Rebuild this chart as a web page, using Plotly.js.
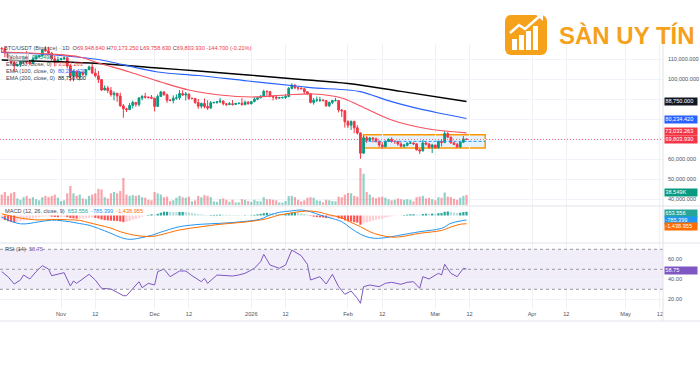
<!DOCTYPE html>
<html><head><meta charset="utf-8">
<script src="https://cdn.plot.ly/plotly-3.0.1.min.js"></script>
<style>html,body{margin:0;padding:0;background:#fff}#chart{width:700px;height:365px}</style>
</head><body><div id="chart"></div>
<script>
const days = [
'2025-10-13','2025-10-14','2025-10-15','2025-10-16','2025-10-17','2025-10-18','2025-10-19','2025-10-20','2025-10-21','2025-10-22',
'2025-10-23','2025-10-24','2025-10-25','2025-10-26','2025-10-27','2025-10-28','2025-10-29','2025-10-30','2025-10-31','2025-11-01',
'2025-11-02','2025-11-03','2025-11-04','2025-11-05','2025-11-06','2025-11-07','2025-11-08','2025-11-09','2025-11-10','2025-11-11',
'2025-11-12','2025-11-13','2025-11-14','2025-11-15','2025-11-16','2025-11-17','2025-11-18','2025-11-19','2025-11-20','2025-11-21',
'2025-11-22','2025-11-23','2025-11-24','2025-11-25','2025-11-26','2025-11-27','2025-11-28','2025-11-29','2025-11-30','2025-12-01',
'2025-12-02','2025-12-03','2025-12-04','2025-12-05','2025-12-06','2025-12-07','2025-12-08','2025-12-09','2025-12-10','2025-12-11',
'2025-12-12','2025-12-13','2025-12-14','2025-12-15','2025-12-16','2025-12-17','2025-12-18','2025-12-19','2025-12-20','2025-12-21',
'2025-12-22','2025-12-23','2025-12-24','2025-12-25','2025-12-26','2025-12-27','2025-12-28','2025-12-29','2025-12-30','2025-12-31',
'2026-01-01','2026-01-02','2026-01-03','2026-01-04','2026-01-05','2026-01-06','2026-01-07','2026-01-08','2026-01-09','2026-01-10',
'2026-01-11','2026-01-12','2026-01-13','2026-01-14','2026-01-15','2026-01-16','2026-01-17','2026-01-18','2026-01-19','2026-01-20',
'2026-01-21','2026-01-22','2026-01-23','2026-01-24','2026-01-25','2026-01-26','2026-01-27','2026-01-28','2026-01-29','2026-01-30',
'2026-01-31','2026-02-01','2026-02-02','2026-02-03','2026-02-04','2026-02-05','2026-02-06','2026-02-07','2026-02-08','2026-02-09',
'2026-02-10','2026-02-11','2026-02-12','2026-02-13','2026-02-14','2026-02-15','2026-02-16','2026-02-17','2026-02-18','2026-02-19',
'2026-02-20','2026-02-21','2026-02-22','2026-02-23','2026-02-24','2026-02-25','2026-02-26','2026-02-27','2026-02-28','2026-03-01',
'2026-03-02','2026-03-03','2026-03-04','2026-03-05','2026-03-06','2026-03-07','2026-03-08','2026-03-09','2026-03-10','2026-03-11'];

const openP = [
115300,115100,113100,110800,108200,106500,107200,108700,110600,108500,
107600,110100,111000,111600,114600,114100,112900,110100,108300,109600,
110100,110600,106500,101500,103900,101300,103400,102300,104700,106000,
103000,101600,99700,94500,95500,94200,92200,92900,91500,86600,
85100,84700,86800,88300,87300,90500,91300,90900,90800,90400,
86300,91300,93500,92100,89400,89300,90400,90600,92700,92000,
92500,90300,90300,88200,86400,87800,86200,85500,88100,88300,
88600,89000,87600,87300,87600,87300,87800,87900,87200,88400,
87600,88700,89900,90600,91500,93800,93700,91300,91000,90500,
90600,90800,91200,95300,97000,95600,95500,95100,93600,92600,
88300,89400,89500,89500,89200,86600,88300,89200,89200,84500,
84100,78600,76900,78700,75600,73000,62900,70600,69300,70500,
70100,68800,67000,66200,68800,69800,68800,68800,67500,66400,
66900,67900,68000,67600,64600,64000,68000,67500,65900,67000,
65700,68800,68300,72700,70900,68000,67300,66000,68400,69948.64];

const highP = [
116000,115800,113500,111700,109200,107500,109400,111700,114000,109000,
111300,112000,111900,115000,116400,116100,113600,111600,111200,110600,
111300,110800,107300,104500,104200,104100,103600,105000,106700,107500,
105300,104000,99900,96800,96600,96000,93800,92900,93200,87500,
85600,88000,89200,88500,91000,91900,93100,91200,92000,90400,
92300,94100,94000,92700,90000,91800,92300,94500,94400,93500,
92700,90600,90500,90000,88200,90300,89400,89000,88600,89000,
90600,89300,88000,88500,89500,88000,88100,90400,89200,89000,
88900,90900,90800,91800,94700,94400,93800,91500,91700,91100,
91100,92400,96000,97800,97200,95900,95600,95500,93800,92900,
90500,91200,91100,89900,89300,88700,89500,90600,89400,85000,
84300,79400,79300,79200,76900,73300,71700,71500,71000,71000,
70700,69300,68400,69300,70300,70800,69300,69000,68400,67500,
68300,68600,68300,67700,65100,69500,68800,68100,67600,67100,
69200,69800,74000,73500,71200,68600,68100,68700,71500,70173.25];

const lowP = [
113000,110800,110200,107500,103500,106300,106100,107500,107400,106900,
107500,109700,110600,111300,113800,112200,109200,106300,108000,109400,
109500,105300,98900,98900,100300,99300,101500,101300,104300,102500,
100800,98000,94000,94300,93000,91200,89300,88600,86100,80600,
83500,84600,85300,86100,86300,89300,90200,90200,90300,83800,
86200,91000,91700,88100,88900,87800,89600,89600,91500,89300,
89500,89800,87600,85100,85300,85300,84500,85100,87800,87600,
87900,86800,86400,86900,86700,87100,87300,86700,86900,87300,
87300,88400,89400,90400,91300,91600,90800,89300,89600,90200,
90300,90000,90900,94800,95000,94300,94900,92600,91900,87800,
87200,88500,88500,88900,86100,86000,87400,88800,83300,81000,
75700,75500,74500,72900,72200,60100,62600,68000,68800,68300,
68200,65900,65100,65800,68600,68200,67600,66700,65900,65700,
66300,67500,67100,64200,62500,63900,66800,65100,63000,65000,
65200,66300,67900,70500,67800,66900,65600,65700,68100,69758.63];

const closeP = [
115100,113100,110800,108200,106500,107200,108700,110600,108500,107600,
110100,111000,111600,114600,114100,112900,110100,108300,109600,110100,
110600,106500,101500,103900,101300,103400,102300,104700,106000,103000,
101600,99700,94500,95500,94200,92200,92900,91500,86600,85100,
84700,86800,88300,87300,90500,91300,90900,90800,90400,86300,
91300,93500,92100,89400,89300,90400,90600,92700,92000,92500,
90300,90300,88200,86400,87800,86200,85500,88100,88300,88600,
89000,87600,87300,87600,87300,87800,87900,87200,88400,87600,
88700,89900,90600,91500,93800,93700,91300,91000,90500,90600,
90800,91200,95300,97000,95600,95500,95100,93600,92600,88300,
89400,89500,89500,89200,86600,88300,89200,89200,84500,84100,
78600,76900,78700,75600,73000,62900,70600,69300,70500,70100,
68800,67000,66200,68800,69800,68800,68800,67500,66400,66900,
67900,68000,67600,64600,64000,68000,67500,65900,67000,65700,
68800,68300,72700,70900,68000,67300,66000,68400,69950,69803.93];
const lastChange = -144.700;
const lastChangePct = -0.21;

const volumeK = [
40,50,35,45,50,25,20,30,35,25,
30,22,18,30,35,30,35,40,28,15,
18,45,73,45,35,40,25,22,35,40,
45,62,60,30,25,45,50,45,54,104,
40,35,38,35,38,30,28,20,18,50,
45,40,30,32,15,18,28,35,30,28,
32,14,18,35,30,38,35,30,14,12,
22,25,20,12,20,10,10,22,20,15,
12,20,15,14,30,22,22,20,18,10,
9,15,34,35,30,20,14,18,28,30,
28,18,16,10,20,18,15,14,32,30,
40,46,45,35,32,142,120,50,40,30,
26,30,32,28,22,18,20,25,22,20,
22,20,14,30,32,35,25,27,22,18,
30,28,48,32,30,24,20,28,35,38.549];

const ema50Dates = ['2025-10-13','2025-10-28','2025-11-07','2025-11-13','2025-11-23','2025-12-03','2025-12-12','2025-12-22','2026-01-01','2026-01-12','2026-01-21','2026-01-30','2026-02-05','2026-02-15','2026-02-26','2026-03-11'];
const ema50 = [113500,112500,111000,108000,103500,98500,94500,92000,91000,92000,92500,90500,86500,79500,75250,73033.263];
const ema100Dates = ['2025-10-13','2025-10-28','2025-11-13','2025-11-17','2025-12-02','2025-12-15','2025-12-31','2026-01-17','2026-01-20','2026-02-01','2026-02-05','2026-02-15','2026-02-21','2026-03-02','2026-03-11'];
const ema100 = [113250,112250,109750,108500,103500,101750,99000,96250,95650,94500,93650,88650,86150,83000,80234.42];
const ema200Dates = ['2025-10-13','2025-11-13','2025-12-02','2025-12-15','2025-12-31','2026-01-17','2026-02-01','2026-02-18','2026-03-11'];
const ema200 = [109500,107750,105500,104000,102000,99750,97750,93800,88750];

const macdDates = ['2025-10-13','2025-10-19','2025-10-25','2025-10-29','2025-11-01','2025-11-04','2025-11-07','2025-11-10','2025-11-13','2025-11-17','2025-11-20','2025-11-23','2025-11-26','2025-11-30','2025-12-03','2025-12-09','2025-12-16','2025-12-22','2025-12-29','2026-01-04','2026-01-07','2026-01-10','2026-01-14','2026-01-17','2026-01-20','2026-01-23','2026-01-26','2026-01-30','2026-02-02','2026-02-05','2026-02-08','2026-02-11','2026-02-15','2026-02-18','2026-02-24','2026-03-03','2026-03-06','2026-03-09','2026-03-11'];
const macdLine = [-300,-1450,-1100,-800,-900,-1100,-1400,-1700,-2250,-3100,-3800,-4150,-3950,-3450,-2900,-1950,-1520,-1360,-1080,-610,90,560,800,960,660,90,-380,-1080,-2230,-3270,-3860,-3970,-3680,-3390,-2820,-2230,-1360,-960,-785.399];
const signalLine = [300,-450,-780,-700,-700,-750,-850,-1250,-1650,-2200,-2820,-3250,-3550,-3650,-3350,-2520,-1950,-1530,-1190,-780,-400,90,450,700,780,560,100,-380,-1200,-1950,-2820,-3390,-3750,-3680,-3100,-2600,-2000,-1530,-1438.955];
const macdHist = [
-600,-800,-1000,-1150,-1250,-1150,-1000,-850,-700,-600,
-500,-400,-300,-200,-150,-150,-200,-250,-300,-280,
-250,-300,-450,-500,-550,-550,-520,-480,-400,-380,
-420,-520,-700,-800,-850,-900,-920,-950,-1050,-1150,
-1100,-950,-750,-600,-400,-200,-50,100,200,150,
300,500,650,650,620,600,580,620,620,600,
520,450,350,250,200,120,50,80,100,120,
150,140,120,110,90,80,70,50,60,40,
60,120,200,280,400,480,450,400,330,280,
250,250,380,500,500,450,380,280,150,-80,
-200,-280,-330,-360,-450,-450,-400,-350,-500,-600,
-850,-1000,-1050,-1150,-1250,-1600,-1350,-1200,-1050,-900,
-750,-650,-550,-400,-250,-150,-60,-20,20,80,
150,200,220,150,120,250,300,280,320,300,
400,420,650,700,600,500,420,480,600,653.556];

const rsiDates = ['2025-10-13','2025-10-15','2025-10-17','2025-10-19','2025-10-20','2025-10-22','2025-10-24','2025-10-26','2025-10-28','2025-10-29','2025-11-02','2025-11-04','2025-11-05','2025-11-06','2025-11-10','2025-11-12','2025-11-14','2025-11-17','2025-11-19','2025-11-21','2025-11-22','2025-11-24','2025-11-26','2025-11-27','2025-11-29','2025-12-01','2025-12-02','2025-12-04','2025-12-06','2025-12-09','2025-12-11','2025-12-13','2025-12-16','2025-12-17','2025-12-18','2025-12-21','2025-12-24','2025-12-26','2025-12-28','2025-12-30','2026-01-02','2026-01-04','2026-01-05','2026-01-07','2026-01-10','2026-01-12','2026-01-14','2026-01-15','2026-01-17','2026-01-19','2026-01-20','2026-01-23','2026-01-25','2026-01-27','2026-01-29','2026-01-31','2026-02-02','2026-02-04','2026-02-05','2026-02-06','2026-02-08','2026-02-11','2026-02-13','2026-02-15','2026-02-18','2026-02-20','2026-02-22','2026-02-24','2026-02-25','2026-02-27','2026-03-02','2026-03-03','2026-03-04','2026-03-06','2026-03-08','2026-03-10','2026-03-11'];
const rsiVals = [47.6,42.6,35.3,39.3,44.3,40.3,47.6,53.6,50.3,43.6,46.6,33.3,38.3,36,45,39.3,31,30.3,27,23.6,23.6,31,37.6,31.6,36,34.3,47.6,50.3,42.6,48.3,48.3,43.6,37.6,41,36,44.3,43.6,43.3,44.3,46,51,57.6,65,54.3,51,54.3,69.3,67.6,63.6,55,39.3,42.6,35.3,45,32.6,25,28.3,21,16,32.6,34.3,32.6,36,37,35,37,37.6,31,42.6,40.3,46,44.3,55,46,42.6,51,50.3];
const rsiLast = 58.75;

const timeTickDates = ['2025-11-01','2025-11-12','2025-12-01','2025-12-12','2026-01-01','2026-01-12','2026-02-01','2026-02-12','2026-03-01','2026-03-12','2026-04-01','2026-04-12','2026-05-01','2026-05-12'];
const timeTickText = ['Nov','12','Dec','12','2026','12','Feb','12','Mar','12','Apr','12','May','12'];
const priceTicks = [40000,50000,60000,70000,80000,90000,100000,110000];
const priceTicksHidden = [70000,80000,90000];   // covered by the value tags in the reference
const rsiTicks = [20,40,60];
const rsiLevels = [30,50,70];
const zoneDates = ['2026-02-06','2026-03-17'];
const zonePrices = [65500,72150,68825];

const fmt = (v,d) => v.toLocaleString('en-US',{minimumFractionDigits:d,maximumFractionDigits:d});
const UP='#089981', DN='#F23645';
const n = closeP.length;
const volColors = closeP.map((c,i)=> c>=openP[i] ? 'rgba(8,153,129,0.45)' : 'rgba(242,54,69,0.45)');
const histColors = macdHist.map((h,i)=>{const p = i>0?macdHist[i-1]:h; return h>=0 ? (h>=p?'#26A69A':'#B2DFDB') : (h<p?'#FF5252':'#FFCDD2');});

const traces = [
 {type:'bar', x:days, y:volumeK, xaxis:'x', yaxis:'y', marker:{color:volColors, line:{width:0}}, hoverinfo:'skip'},
 {type:'candlestick', x:days, open:openP, high:highP, low:lowP, close:closeP, xaxis:'x', yaxis:'y2',
  increasing:{line:{color:UP,width:1}, fillcolor:UP}, decreasing:{line:{color:DN,width:1}, fillcolor:DN}, whiskerwidth:0, hoverinfo:'skip'},
 {type:'scatter', mode:'lines', x:ema200Dates, y:ema200, xaxis:'x', yaxis:'y2', line:{color:'#000000', width:1.4, shape:'spline'}, hoverinfo:'skip'},
 {type:'scatter', mode:'lines', x:ema100Dates, y:ema100, xaxis:'x', yaxis:'y2', line:{color:'#2962FF', width:1.2, shape:'spline'}, hoverinfo:'skip'},
 {type:'scatter', mode:'lines', x:ema50Dates, y:ema50, xaxis:'x', yaxis:'y2', line:{color:'#F7525F', width:1.2, shape:'spline'}, hoverinfo:'skip'},
 {type:'bar', x:days, y:macdHist, xaxis:'x', yaxis:'y3', marker:{color:histColors, line:{width:0}}, hoverinfo:'skip'},
 {type:'scatter', mode:'lines', x:macdDates, y:macdLine, xaxis:'x', yaxis:'y3', line:{color:'#2196F3', width:1, shape:'spline'}, hoverinfo:'skip'},
 {type:'scatter', mode:'lines', x:macdDates, y:signalLine, xaxis:'x', yaxis:'y3', line:{color:'#FF6D00', width:1, shape:'spline'}, hoverinfo:'skip'},
 {type:'scatter', mode:'lines', x:rsiDates, y:rsiVals, xaxis:'x', yaxis:'y4', line:{color:'#7E57C2', width:1}, hoverinfo:'skip'}
];

const PW = 663, PT = 44, PB = 309, PH = PB-PT;
const py = (yp) => (PB-yp)/PH;   // pixel row -> paper y
const FONT = 'Liberation Sans, Arial, sans-serif';
const SZ = 5.6;

const shapes = [
 {type:'rect', xref:'paper', yref:'y4', x0:0, x1:1, y0:rsiLevels[0], y1:rsiLevels[2], fillcolor:'rgba(126,87,194,0.10)', line:{width:0}, layer:'below'},
 ...rsiLevels.map(v=>({type:'line', xref:'paper', yref:'y4', x0:0, x1:1, y0:v, y1:v, line:{color:'#9598a1', width:1, dash:'3px,3px'}})),
 {type:'rect', xref:'x', yref:'y2', x0:zoneDates[0], x1:zoneDates[1], y0:zonePrices[0], y1:zonePrices[1], fillcolor:'rgba(33,150,243,0.12)', line:{color:'#FF9800', width:1.5}, layer:'below'},
 {type:'line', xref:'x', yref:'y2', x0:zoneDates[0], x1:zoneDates[1], y0:zonePrices[2], y1:zonePrices[2], line:{color:'#2196F3', width:1, dash:'3px,2px'}},
 {type:'line', xref:'paper', yref:'y2', x0:0, x1:1, y0:closeP[n-1], y1:closeP[n-1], line:{color:'rgba(242,54,69,0.75)', width:1, dash:'1px,2px'}},
 {type:'line', xref:'paper', yref:'paper', x0:0, x1:700/PW, y0:py(206), y1:py(206), line:{color:'#e0e3eb', width:1}},
 {type:'line', xref:'paper', yref:'paper', x0:0, x1:700/PW, y0:py(243), y1:py(243), line:{color:'#e0e3eb', width:1}},
 {type:'line', xref:'paper', yref:'paper', x0:0, x1:700/PW, y0:py(321), y1:py(321), line:{color:'#e0e3eb', width:1}},
 {type:'line', xref:'paper', yref:'paper', x0:1, x1:1, y0:py(321), y1:py(44), line:{color:'#e0e3eb', width:1}}
];

const lbl = (text, yref, y, bg, yshift) => ({xref:'paper', x:1, xanchor:'left', xshift:1, yref:yref, y:y, yanchor:'middle', yshift:yshift||0,
  text:text, showarrow:false, bgcolor:bg, font:{family:FONT, size:SZ, color:'#ffffff'}, borderpad:0.3, width:31, height:6.2, align:'left'});
const leg = (text, yp, x) => ({xref:'paper', x:(x||1)/PW, xanchor:'left', yref:'paper', y:py(yp), yanchor:'middle', text:text, showarrow:false,
  font:{family:FONT, size:SZ, color:'#434651'}, align:'left'});
const red = s => '<span style="color:#F23645">'+s+'</span>';

const annotations = [
 leg('BTC/USDT (Binance) · 1D  O'+red(fmt(openP[n-1],3))+' H'+red(fmt(highP[n-1],3))+' L'+red(fmt(lowP[n-1],3))+' C'+red(fmt(closeP[n-1],3))+' '+red(fmt(lastChange,3)+' ('+fmt(lastChangePct,2)+'%)'), 48, 2),
 {xref:'paper', x:8/PW, xanchor:'left', yref:'paper', y:py(57), yanchor:'middle', text:'Volume', showarrow:false, font:{family:FONT,size:SZ,color:'#434651'}, bordercolor:'#b2b5be', borderwidth:0.6, borderpad:0.5, bgcolor:'rgba(255,255,255,0.6)'},
 leg('<span style="color:#089981">'+fmt(volumeK[n-1],3)+'K</span>', 57, 30),
 leg('EMA (50, close, 0)  <span style="color:#F23645">'+fmt(ema50[ema50.length-1],3)+'</span>', 64, 4),
 leg('EMA (100, close, 0)  <span style="color:#2962FF">'+fmt(ema100[ema100.length-1],3)+'</span>', 71, 4),
 leg('EMA (200, close, 0)  <span style="color:#131722">'+fmt(ema200[ema200.length-1],3)+'</span>', 78, 4),
 leg('MACD (12, 26, close, 9)  <span style="color:#26A69A">'+fmt(macdHist[n-1],3)+'</span>  <span style="color:#2196F3">'+fmt(macdLine[macdLine.length-1],3)+'</span>  <span style="color:#FF6D00">'+fmt(signalLine[signalLine.length-1],3)+'</span>', 211, 3),
 leg('RSI (14)  <span style="color:#7E57C2">'+fmt(rsiLast,2)+'</span>', 249, 3),
 lbl(fmt(ema200[ema200.length-1],3), 'y2', ema200[ema200.length-1], '#131722', 0),
 lbl(fmt(ema100[ema100.length-1],3), 'y2', ema100[ema100.length-1], '#2962FF', -0.8),
 lbl(fmt(ema50[ema50.length-1],3), 'y2', ema50[ema50.length-1], '#F23645', 1.2),
 lbl(fmt(closeP[n-1],3), 'y2', closeP[n-1], '#F23645', 0),
 lbl(fmt(volumeK[n-1],3)+'K', 'y', volumeK[n-1], '#089981', 2.2),
 lbl(fmt(macdHist[n-1],3), 'y3', macdHist[n-1], '#26A69A', -1.4),
 lbl(fmt(macdLine[macdLine.length-1],3), 'y3', macdLine[macdLine.length-1], '#2196F3', 0),
 lbl(fmt(signalLine[signalLine.length-1],3), 'y3', signalLine[signalLine.length-1], '#FF6D00', -3.2),
 lbl(fmt(rsiLast,2), 'y4', rsiLast, '#7E57C2', -9.45),
 {xref:'paper', x:557/PW, xanchor:'left', yref:'paper', y:py(35), yanchor:'middle', text:'<b>SÀN UY TÍN</b>', showarrow:false,
  font:{family:FONT, size:24, color:'#F5A11C'}}
];

const logoSvg = "<svg xmlns='http://www.w3.org/2000/svg' width='46' height='44' viewBox='0 0 46 44'>"+
 "<rect x='0' y='4' width='42' height='40' rx='6' fill='#F5A11C'/>"+
 "<rect x='7' y='28' width='5' height='11' fill='#fff'/><rect x='14' y='24' width='5' height='15' fill='#fff'/>"+
 "<rect x='21' y='20' width='5' height='19' fill='#fff'/><rect x='28' y='15' width='5' height='24' fill='#fff'/>"+
 "<polyline points='5,22 14,14 20,18 36,4' fill='none' stroke='#fff' stroke-width='2.5'/>"+
 "<polygon points='38,1 38,10 30,3' fill='#fff'/></svg>";

const layout = {
 width:700, height:365,
 margin:{l:0, r:700-PW, t:PT, b:365-PB, pad:0},
 paper_bgcolor:'#ffffff', plot_bgcolor:'#ffffff',
 showlegend:false, bargap:0.3, boxgap:0.2,
 font:{family:FONT, size:SZ, color:'#131722'},
 xaxis:{type:'date', range:['2025-10-12 10:38','2026-05-13 00:00'], tickmode:'array', tickvals:timeTickDates, ticktext:timeTickText,
   showgrid:true, gridcolor:'#eef0f4', gridwidth:1, ticks:'', showline:false, zeroline:false, anchor:'y4',
   tickfont:{family:FONT, size:SZ, color:'#50535e'}, rangeslider:{visible:false}, fixedrange:true},
 yaxis:{domain:[py(206),1], range:[-4,620], visible:false, showgrid:false, zeroline:false, fixedrange:true},
 yaxis2:{overlaying:'y', side:'right', range:[36500,117500], tickmode:'array', tickvals:priceTicks,
   ticktext:priceTicks.map(v=> priceTicksHidden.includes(v) ? '' : fmt(v,3)),
   showgrid:true, gridcolor:'#f0f3fa', zeroline:false, ticks:'', ticklabelstandoff:4, tickfont:{family:FONT, size:SZ, color:'#50535e'}, fixedrange:true},
 yaxis3:{domain:[py(243),py(206)], range:[-4785,1653], side:'right', showgrid:false, zeroline:false, showticklabels:false, ticks:'', fixedrange:true},
 yaxis4:{domain:[0,py(243)], range:[10.3,76.3], side:'right', tickmode:'array', tickvals:rsiTicks, ticktext:rsiTicks.map(v=>fmt(v,2)),
   showgrid:true, gridcolor:'#f0f3fa', zeroline:false, ticks:'', ticklabelstandoff:4, tickfont:{family:FONT, size:SZ, color:'#50535e'}, fixedrange:true},
 shapes:shapes, annotations:annotations,
 images:[{source:'data:image/svg+xml;utf8,'+encodeURIComponent(logoSvg), xref:'paper', yref:'paper', x:505/PW, y:py(11), sizex:46/PW, sizey:44/PH,
   xanchor:'left', yanchor:'top', sizing:'stretch', layer:'above'}]
};

Plotly.newPlot('chart', traces, layout, {staticPlot:true, displayModeBar:false});
</script></body></html>
